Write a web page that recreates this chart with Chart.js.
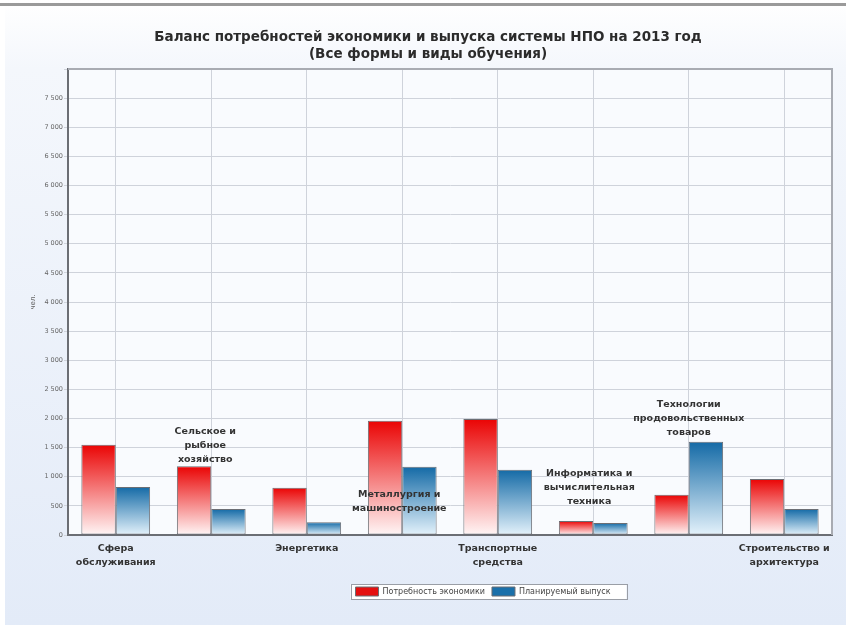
<!DOCTYPE html>
<html>
<head>
<meta charset="utf-8">
<script src="https://cdn.jsdelivr.net/npm/chart.js@4.4.0/dist/chart.umd.min.js"></script>
<style>
    html, body { margin: 0; padding: 0; background: #ffffff; }
    #wrap { width: 846px; height: 625px; }
</style>
</head>
<body>
<div id="wrap"><canvas id="balanceChart" width="846" height="625"></canvas></div>
<script>
// Отрасли (категории)
const categories = [
    ['Сфера', 'обслуживания'],
    ['Сельское и', 'рыбное', 'хозяйство'],
    ['Энергетика'],
    ['Металлургия и', 'машиностроение'],
    ['Транспортные', 'средства'],
    ['Информатика и', 'вычислительная', 'техника'],
    ['Технологии', 'продовольственных', 'товаров'],
    ['Строительство и', 'архитектура']
];
// Подписи под осью (true) или внутри графика (false)
const labelBelow = [true, false, true, false, true, false, false, true];

const demandValues = [1550, 1180, 810, 1960, 1990, 240, 690, 960];
const outputValues = [825, 445, 220, 1170, 1120, 205, 1600, 445];

const seriesNames = ['Потребность экономики', 'Планируемый выпуск'];
const seriesSwatch = ['#e41010', '#1a70aa'];
const titleLines = ['Баланс потребностей экономики и выпуска системы НПО на 2013 год', '(Все формы и виды обучения)'];

const yMax = 8000;
const yStep = 500;

const FONT = '"DejaVu Sans", Verdana, sans-serif';

function formatThousands(v) {
    return String(v).replace(/\B(?=(\d{3})+(?!\d))/g, ' ');
}

// Градиент сверху вниз по высоте каждого столбца
function makeGradient(context, top, bottom) {
    const chart = context.chart;
    const ys = chart.scales.y;
    if (!chart.chartArea || !ys || context.type !== 'data') return top;
    const y0 = ys.getPixelForValue(context.raw);
    const y1 = ys.getPixelForValue(0);
    if (!isFinite(y0) || !isFinite(y1) || y0 === y1) return top;
    const g = chart.ctx.createLinearGradient(0, y0, 0, y1);
    g.addColorStop(0, top);
    g.addColorStop(1, bottom);
    return g;
}

// Фон страницы и области построения
const backgroundPlugin = {
    id: 'pageBackground',
    afterLayout(chart) {
        // легенда смещена вправо, как в оригинале
        const lg = chart.legend;
        if (lg) { lg.left += 55; lg.right += 55; }
    },
    beforeDraw(chart) {
        const ctx = chart.ctx;
        const w = chart.width, h = chart.height;
        ctx.save();
        const g = ctx.createLinearGradient(0, 0, 0, h);
        g.addColorStop(0, '#ffffff');
        g.addColorStop(0.11, '#f4f7fc');
        g.addColorStop(1, '#e3ebf8');
        ctx.fillStyle = g;
        ctx.fillRect(0, 0, w, h);
        ctx.fillStyle = '#ffffff';
        ctx.fillRect(0, 0, 5, h);
        ctx.fillStyle = '#9a9a9a';
        ctx.fillRect(0, 3, w, 3);
        const a = chart.chartArea;
        ctx.fillStyle = '#f9fbfe';
        ctx.fillRect(a.left, a.top, a.right - a.left, a.bottom - a.top);
        // рамка легенды
        const lg = chart.legend;
        if (lg && lg.legendHitBoxes && lg.legendHitBoxes.length) {
            const boxes = lg.legendHitBoxes;
            const x0 = boxes[0].left - 5;
            const last = boxes[boxes.length - 1];
            const x1 = last.left + last.width + 16;
            const y0 = boxes[0].top - 3;
            const y1 = boxes[0].top + boxes[0].height + 3;
            ctx.fillStyle = '#ffffff';
            ctx.fillRect(x0, y0, x1 - x0, y1 - y0);
            ctx.strokeStyle = '#9a9ea6';
            ctx.lineWidth = 1;
            ctx.strokeRect(Math.round(x0) + 0.5, Math.round(y0) + 0.5, Math.round(x1 - x0), Math.round(y1 - y0));
        }
        ctx.restore();
    },
    afterDraw(chart) {
        const ctx = chart.ctx;
        const a = chart.chartArea;
        ctx.save();
        ctx.strokeStyle = '#a8abb2';
        ctx.lineWidth = 2;
        ctx.beginPath();
        ctx.moveTo(a.left, a.top);
        ctx.lineTo(a.right, a.top);
        ctx.lineTo(a.right, a.bottom);
        ctx.stroke();
        ctx.restore();
    }
};

// Подписи категорий внутри области построения
const innerLabelsPlugin = {
    id: 'innerLabels',
    afterDatasetsDraw(chart, args, opts) {
        const ctx = chart.ctx;
        const xs = chart.scales.x;
        const ys = chart.scales.y;
        ctx.save();
        ctx.font = 'bold 9.5px ' + FONT;
        ctx.fillStyle = '#333333';
        ctx.textAlign = 'center';
        ctx.textBaseline = 'middle';
        categories.forEach((lines, i) => {
            if (labelBelow[i]) return;
            const x = xs.getPixelForValue(i) + opts.shift[i];
            const yTop = ys.getPixelForValue(opts.anchor[i]);
            lines.forEach((line, k) => {
                ctx.fillText(line, x, yTop + k * 14);
            });
        });
        ctx.restore();
    }
};

document.addEventListener('DOMContentLoaded', function() {
    const ctx = document.getElementById('balanceChart').getContext('2d');
    new Chart(ctx, {
        type: 'bar',
        data: {
            labels: categories,
            datasets: [{
                label: seriesNames[0],
                data: demandValues,
                backgroundColor: (c) => makeGradient(c, 'rgb(234,4,4)', 'rgb(255,246,246)'),
                borderColor: '#6b6e74',
                borderWidth: 1,
                borderSkipped: false
            }, {
                label: seriesNames[1],
                data: outputValues,
                backgroundColor: (c) => makeGradient(c, 'rgb(20,106,166)', 'rgb(228,242,251)'),
                borderColor: '#6b6e74',
                borderWidth: 1,
                borderSkipped: false
            }]
        },
        options: {
            responsive: false,
            animation: false,
            events: [],
            layout: {
                padding: { left: 24, right: 14, top: 0, bottom: 19 }
            },
            datasets: {
                bar: {
                    categoryPercentage: 0.72,
                    barPercentage: 1.0
                }
            },
            scales: {
                x: {
                    offset: true,
                    grid: {
                        offset: false,
                        color: '#cfd3db',
                        lineWidth: 1,
                        drawTicks: false
                    },
                    border: { color: '#6b6e74', width: 2 },
                    ticks: {
                        autoSkip: false,
                        maxRotation: 0,
                        minRotation: 0,
                        padding: 7,
                        color: '#333333',
                        font: { family: FONT, size: 9.5, weight: 'bold', lineHeight: '14px' },
                        callback: function(value, index) {
                            return labelBelow[index] ? categories[index] : '';
                        }
                    },
                    afterFit: function(scale) { scale.height = 45; }
                },
                y: {
                    min: 0,
                    max: yMax,
                    grid: {
                        color: '#cfd3db',
                        lineWidth: 1,
                        tickLength: 4
                    },
                    border: { color: '#6b6e74', width: 2 },
                    ticks: {
                        stepSize: yStep,
                        padding: 1,
                        color: '#666666',
                        font: { family: FONT, size: 6.5 },
                        callback: function(v) {
                            return v === yMax ? '' : formatThousands(v);
                        }
                    },
                    title: {
                        display: true,
                        text: 'чел.',
                        color: '#666666',
                        font: { family: FONT, size: 7 },
                        padding: { top: 5, bottom: 0 }
                    },
                    afterFit: function(scale) { scale.width = 44; }
                }
            },
            plugins: {
                title: {
                    display: true,
                    text: titleLines,
                    color: '#2b2b2b',
                    font: { family: FONT, size: 13.5, weight: 'bold', lineHeight: '17px' },
                    padding: { top: 29, bottom: 6 }
                },
                legend: {
                    position: 'bottom',
                    labels: {
                        boxWidth: 23,
                        boxHeight: 9,
                        padding: 7,
                        color: '#444444',
                        font: { family: FONT, size: 8 },
                        generateLabels: function(chart) {
                            return seriesNames.map((name, i) => ({
                                text: name,
                                fillStyle: seriesSwatch[i],
                                strokeStyle: '#6b6e74',
                                lineWidth: 1,
                                hidden: false,
                                datasetIndex: i,
                                fontColor: '#444444'
                            }));
                        }
                    }
                },
                tooltip: { enabled: false },
                innerLabels: {
                    anchor: [0, 1770, 0, 690, 0, 1050, 2235, 0],
                    shift: [0, -6, 0, -3, 0, -4, 0, 0]
                }
            }
        },
        plugins: [backgroundPlugin, innerLabelsPlugin]
    });
});
</script>
</body>
</html>
